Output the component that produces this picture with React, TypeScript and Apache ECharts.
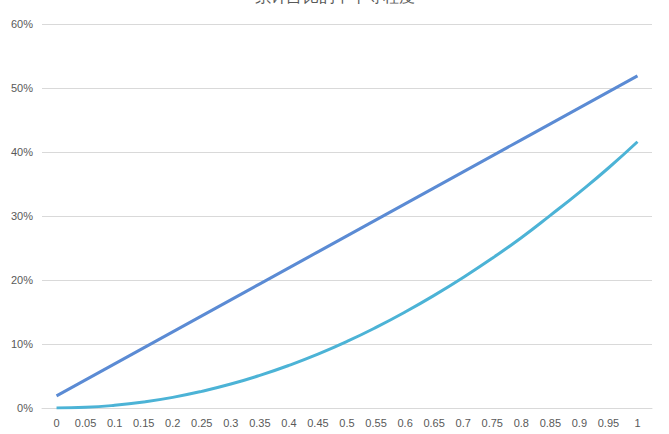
import React, { useEffect, useRef } from "react";
import * as echarts from "echarts";

const categories = ["0", "0.05", "0.1", "0.15", "0.2", "0.25", "0.3", "0.35", "0.4", "0.45", "0.5", "0.55", "0.6", "0.65", "0.7", "0.75", "0.8", "0.85", "0.9", "0.95", "1"];
const seriesA = [1.9, 4.4, 6.9, 9.4, 11.9, 14.4, 16.9, 19.4, 21.9, 24.4, 26.9, 29.4, 31.9, 34.4, 36.9, 39.4, 41.9, 44.4, 46.9, 49.4, 51.9];
const seriesB = [0, 0.1, 0.42, 0.94, 1.66, 2.6, 3.74, 5.1, 6.66, 8.42, 10.4, 12.6, 15.0, 17.6, 20.4, 23.4, 26.6, 30.1, 33.7, 37.5, 41.6];
const yTicks = [0, 10, 20, 30, 40, 50, 60];

export default function App() {
  const ref = useRef<HTMLDivElement>(null);
  useEffect(() => {
    if (!ref.current) return;
    const chart = echarts.init(ref.current, null, { renderer: "svg" });
    chart.setOption({
      animation: false,
      textStyle: { fontFamily: "Liberation Sans, Arial, sans-serif" },
      title: {
        text: "累计占比的不平等程度",
        left: "center",
        top: -17,
        textStyle: { fontSize: 16, color: "#595959", fontWeight: "normal" },
      },
      grid: { left: 42, right: 17, top: 24, bottom: 26, containLabel: false },
      xAxis: {
        type: "category",
        data: categories,
        boundaryGap: true,
        axisLine: { show: true, lineStyle: { color: "#d9d9d9" } },
        axisTick: { show: false },
        axisLabel: { color: "#595959", fontSize: 11, margin: 9, interval: 0 },
      },
      yAxis: {
        type: "value",
        min: yTicks[0],
        max: yTicks[yTicks.length - 1],
        interval: 10,
        axisLine: { show: false },
        axisTick: { show: false },
        axisLabel: { color: "#595959", fontSize: 11, margin: 9, formatter: (v: number) => v + "%" },
        splitLine: { lineStyle: { color: "#d9d9d9" } },
      },
      series: [
        {
          type: "line",
          data: seriesA,
          smooth: true,
          showSymbol: false,
          lineStyle: { color: "#5b8bd4", width: 3 },
        },
        {
          type: "line",
          data: seriesB,
          smooth: true,
          showSymbol: false,
          lineStyle: { color: "#4cb3d6", width: 3 },
        },
      ],
    });
    return () => chart.dispose();
  }, []);
  return <div ref={ref} style={{ width: 669, height: 434, position: "absolute", left: 0, top: 0 }} />;
}
